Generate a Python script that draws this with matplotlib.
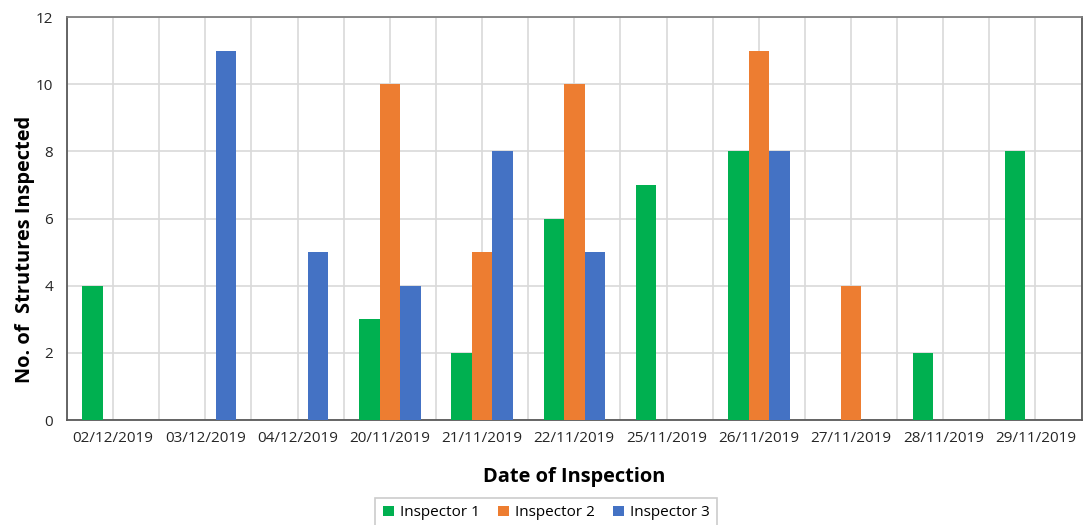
import matplotlib.pyplot as plt
import numpy as np

plt.rcParams['font.family'] = ['Open Sans', 'DejaVu Sans']

dates = ['02/12/2019', '03/12/2019', '04/12/2019', '20/11/2019', '21/11/2019',
         '22/11/2019', '25/11/2019', '26/11/2019', '27/11/2019', '28/11/2019',
         '29/11/2019']
inspector_1 = [4, 0, 0, 3, 2, 6, 7, 8, 0, 2, 8]
inspector_2 = [0, 0, 0, 10, 5, 10, 0, 11, 4, 0, 0]
inspector_3 = [0, 11, 5, 4, 8, 5, 0, 8, 0, 0, 0]
names = ['Inspector 1', 'Inspector 2', 'Inspector 3']
colors = ['#00B050', '#ED7D31', '#4472C4']

fig = plt.figure(figsize=(10.84, 5.25), dpi=100)
ax = fig.add_axes([0.0618, 0.2, 0.936, 0.7676])

x = np.arange(len(dates))
w = 1 / 4.5
for i, (vals, name, c) in enumerate(zip([inspector_1, inspector_2, inspector_3], names, colors)):
    ax.bar(x + (i - 1) * w, vals, width=w, color=c, label=name, zorder=3)

ax.set_xlim(-0.5, len(dates) - 0.5)
ax.set_ylim(0, 12)
ax.set_yticks(range(0, 13, 2))
ax.set_xticks(x)
ax.set_xticklabels(dates)
ax.set_xticks(np.arange(-0.5, len(dates), 1.0), minor=True)
ax.grid(True, which='both', axis='x', color='#D9D9D9', lw=1.2, zorder=0)
ax.grid(True, which='major', axis='y', color='#D9D9D9', lw=1.2, zorder=0)
ax.tick_params(axis='both', which='both', length=0, labelsize=11, colors='#262626', pad=8)
ax.tick_params(axis='y', pad=10)
for s in ax.spines.values():
    s.set_color('#595959')
    s.set_linewidth(1.3)
ax.spines['top'].set_color('#7F7F7F')

ax.set_xlabel('Date of Inspection', fontsize=14.4, fontweight='bold', labelpad=15)
ax.set_ylabel('No. of  Strutures Inspected', fontsize=14.4, fontweight='bold')
ax.yaxis.set_label_coords(-0.032, 0.424)

leg = fig.legend(loc='upper center', bbox_to_anchor=(0.504, 1 - 490 / 525), ncol=3,
                 fontsize=11, frameon=True, fancybox=False, edgecolor='#BFBFBF',
                 handlelength=0.7, handleheight=0.7, handletextpad=0.4, columnspacing=1.2,
                 borderpad=0.5)
leg.get_frame().set_linewidth(1.2)

fig.savefig('out.png', dpi=100)
